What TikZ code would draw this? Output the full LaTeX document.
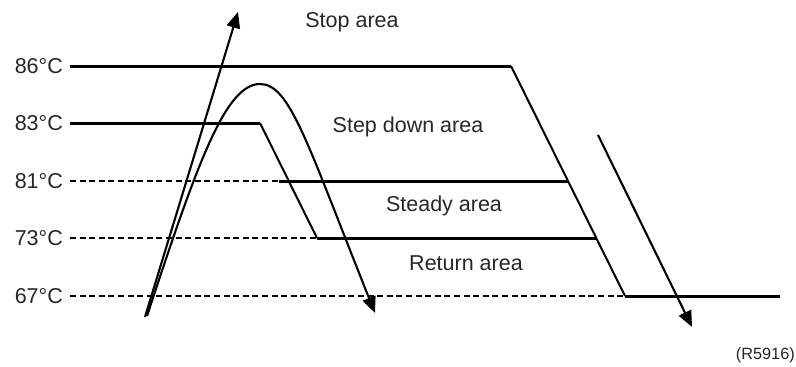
\documentclass[tikz,border=0pt]{standalone}
\usepackage{fontspec}
\setmainfont{Liberation Sans}
\usetikzlibrary{arrows.meta}
\begin{document}
\begin{tikzpicture}[x=1pt,y=-1pt,
  lbl/.style={inner sep=0pt,font=\fontsize{21.5}{25}\selectfont,text=black!85},
  templbl/.style={lbl,anchor=east},
  thickline/.style={line width=3pt},
  slant/.style={line width=2pt},
  dashline/.style={line width=1.1pt,dash pattern=on 6pt off 3.6pt},
  arr/.style={line width=2.1pt,-{Triangle[length=16pt,width=13.5pt]}}]
\useasboundingbox (0,0) rectangle (796,367);
% temperature labels
\node[templbl] (t86) at (63,66) {86°C};
\node[templbl] (t83) at (63,123) {83°C};
\node[templbl] (t81) at (63,181) {81°C};
\node[templbl] (t73) at (63,238) {73°C};
\node[templbl] (t67) at (63,296) {67°C};
% corner coordinates
\coordinate (a86) at (70,66);
\coordinate (b86) at (511,66);
\coordinate (c86) at (625,296);
\coordinate (d86) at (780,296);
\coordinate (a83) at (70,123);
\coordinate (b83) at (260,123);
\coordinate (c83) at (317,238);
\coordinate (a81) at (70,181);
\coordinate (b81) at (279,181);
\coordinate (c81) at (568,181);
\coordinate (a73) at (70,238);
\coordinate (c73) at (597,238);
\coordinate (a67) at (70,296);
% lines
\draw[thickline] (a86) -- (b86);
\draw[slant] (b86) -- (c86);
\draw[thickline] (c86) -- (d86);
\draw[thickline] (a83) -- (b83);
\draw[slant] (b83) -- (c83);
\draw[dashline] (a81) -- (b81);
\draw[thickline] (b81) -- (c81);
\draw[dashline] (a73) -- (c83);
\draw[thickline] (c83) -- (c73);
\draw[dashline] (a67) -- (c86);
% arrows
\coordinate (r0) at (145,317);
\coordinate (r1) at (238,12);
\draw[arr] (r0) -- (r1);
\coordinate (p0) at (147,316);
\coordinate (pk) at (260,84);
\coordinate (p1) at (375,313);
\draw[arr] (p0) .. controls (196.5,166) and (225,84) .. (pk)
  .. controls (290,84) and (307,143) .. (p1);
\coordinate (q0) at (598,135);
\coordinate (q1) at (692,327);
\draw[arr] (q0) -- (q1);
% area labels
\node[lbl] (stop) at (352,22) {Stop area};
\node[lbl] (stepdown) at (408,127) {Step down area};
\node[lbl] (steady) at (444,206) {Steady area};
\node[lbl] (return) at (466,263) {Return area};
\node[lbl,font=\fontsize{16.3}{19}\selectfont,anchor=east] (ref) at (795,355) {(R5916)};
\end{tikzpicture}
\end{document}
